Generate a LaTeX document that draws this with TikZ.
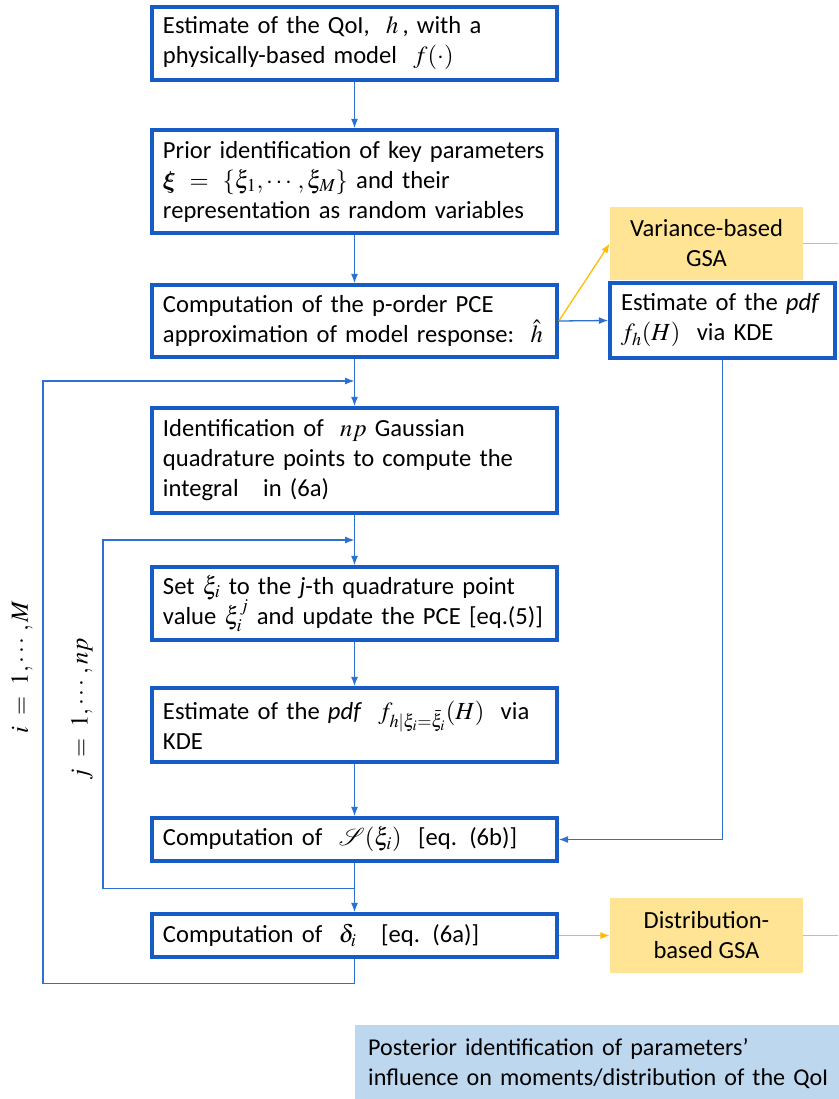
\documentclass[tikz,border=0pt]{standalone}
\usepackage{amsmath, amssymb}
\usepackage{bm}
\usepackage{mathptmx}
\usepackage{fontspec}
\setmainfont{Carlito}
\usepackage{tikz}
\usetikzlibrary{calc, positioning, arrows.meta}
\definecolor{boxBlue}{RGB}{22, 92, 196}
\definecolor{flowBlue}{RGB}{46, 112, 208}
\definecolor{gsaFill}{RGB}{255, 228, 150}
\definecolor{gsaLine}{RGB}{255, 188, 0}
\definecolor{postFill}{RGB}{189, 215, 238}
\definecolor{linkBlue}{RGB}{157, 195, 230}

\begin{document}
\begin{tikzpicture}[
  x=0.03cm, y=-0.03cm,
  font=\fontsize{21}{25.6}\selectfont,
  stepbox/.style={draw=boxBlue, line width=3pt, fill=white, align=left,
    inner xsep=0.33cm, inner ysep=0pt, minimum width=12.15cm, text width=11.49cm},
  gsabox/.style={fill=gsaFill, align=center, inner sep=0pt, minimum width=5.79cm},
  flow/.style={-{Latex[length=8pt, width=6pt]}, line width=1.1pt, draw=flowBlue},
  gsa/.style={flow, draw=gsaLine},
  link/.style={line width=1.1pt, draw=linkBlue}
]
  \useasboundingbox (0,0) rectangle (838,1099);

  % Main chain
  \node[stepbox, minimum height=2.19cm] (qoi) at (354.5, 43.5)
    {Estimate of the QoI,\ \ $h$\,, with a\\ physically-based model\ \ $f(\cdot)$};
  \node[stepbox, minimum height=3.09cm] (prior) at (354.5, 181.5)
    {Prior identification of key parameters\\ $\bm{\xi}\ =\ \{\xi_1,\cdots,\xi_M\}$ and their\\ representation as random variables};
  \node[stepbox, minimum height=2.16cm] (pce) at (354.5, 321)
    {Computation of the p-order PCE\\ approximation of model response:\ \ $\hat{h}$};
  \node[stepbox, minimum height=3.15cm] (quad) at (354.5, 460.5)
    {Identification of\ \ $np$\ Gaussian\\ quadrature points to compute the\\ integral\ \ \ in (6a)};
  \node[stepbox, minimum height=2.19cm] (setxi) at (354.5, 603.5)
    {Set $\xi_i$ to the \textit{j}-th quadrature point\\ value\ $\xi_i^j$\ and update the PCE [eq.(5)]};
  \node[stepbox, minimum height=2.22cm] (kde) at (354.5, 725)
    {Estimate of the \textit{pdf}\ \ $f_{h|\xi_i=\bar{\xi}_i}(H)$\ \ via\\ KDE};
  \node[stepbox, minimum height=1.29cm] (smeas) at (354.5, 839.5)
    {Computation of\ \ $\mathcal{S}(\xi_i)$\ \ [eq. (6b)]};
  \node[stepbox, minimum height=1.29cm] (delta) at (354.5, 935.5)
    {Computation of\ \ $\delta_i$\ \ \ [eq. (6a)]};

  % Side boxes
  \node[gsabox, minimum height=2.19cm] (var) at (706.5, 243.5) {Variance-based\\ GSA};
  \node[stepbox, minimum width=6.75cm, text width=6.09cm, minimum height=2.25cm] (pdf) at (722.5, 320.5)
    {Estimate of the \textit{pdf}\\ $f_h(H)$\ \ via KDE};
  \node[gsabox, minimum height=2.25cm] (dist) at (706.5, 935.5) {Distribution-\\ based GSA};
  \node[fill=postFill, anchor=north west, align=left, inner xsep=0.39cm, inner ysep=0pt,
    minimum width=14.7cm, text width=14.3cm, minimum height=2.3cm,
    font=\fontsize{20.6}{25.6}\selectfont] (post) at (355, 1025)
    {Posterior identification of parameters’\\ influence on moments/distribution of the QoI};

  % Loop labels
  \node[rotate=90] (iloop) at (22, 667) {$i\ =\ 1,\cdots,M$};
  \node[rotate=90] (jloop) at (82, 709) {$j\ =\ 1,\cdots,np$};

  \coordinate (ijoin) at (354.5, 381);
  \coordinate (jjoin) at (354.5, 540);
  \coordinate (varout) at (838, 243.5);
  \coordinate (distout) at (838, 935.5);

  % Connectors
  \draw[flow] (qoi) -- (prior);
  \draw[flow] (prior) -- (pce);
  \draw[flow] (pce) -- (quad);
  \draw[flow] (quad) -- (setxi);
  \draw[flow] (setxi) -- (kde);
  \draw[flow] (kde) -- (smeas);
  \draw[flow] (smeas) -- (delta);
  \draw[gsa] (pce.east) -- (var.west);
  \draw[flow] (pce.east) -- (pdf.west);
  \draw[flow] (pdf.south) |- (smeas.east);
  \draw[gsa] (delta.east) -- (dist.west);
  \draw[link] (var.east) -- (varout);
  \draw[link] (dist.east) -- (distout);
  % inner and outer loops
  \draw[flow] (smeas.south) -- ++(0,26) -| (103,540) -- (jjoin);
  \draw[flow] (delta.south) -- ++(0,25) -| (43,381) -- (ijoin);
\end{tikzpicture}
\end{document}
